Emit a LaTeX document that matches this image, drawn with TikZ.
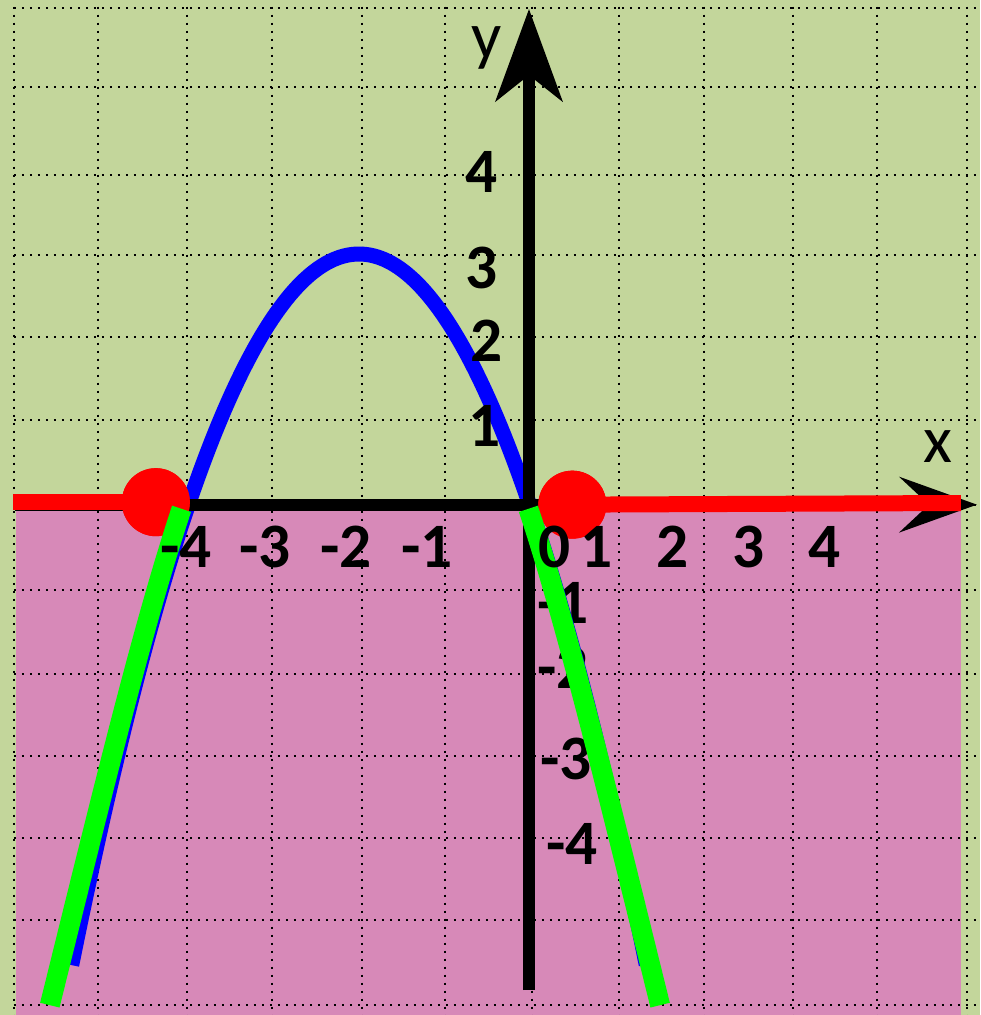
\documentclass[tikz,border=0pt]{standalone}
\usepackage{fontspec}
\setmainfont{Carlito}
\usetikzlibrary{arrows.meta}
\definecolor{bgGreen}{RGB}{195, 214, 155}
\definecolor{bgPink}{RGB}{215, 137, 184}
\definecolor{curveBlue}{RGB}{0, 0, 255}
\definecolor{curveGreen}{RGB}{0, 255, 0}
\definecolor{markRed}{RGB}{255, 0, 0}

\begin{document}
\begin{tikzpicture}[x=0.85cm, y=0.83cm,
    gridline/.style={line width=0.2mm, dash pattern=on 0.2mm off 0.6mm},
    axisline/.style={line width=1.2mm},
    redray/.style={markRed, line width=1.6mm},
    rootdot/.style={circle, fill=markRed, minimum size=6.8mm, inner sep=0pt},
    greenbranch/.style={curveGreen, line width=2.0mm},
    ticklabel/.style={font=\fontsize{18pt}{18pt}\selectfont\bfseries, anchor=base, inner sep=0pt},
    axislabel/.style={font=\fontsize{19pt}{19pt}\selectfont, anchor=base, inner sep=0pt}]
        % background: green above, pink below the x axis
        \useasboundingbox (-6.2235,-6.1687) rectangle (5.3059,6.0602);
        \fill[bgGreen] (-6.2235,-6.1687) rectangle (5.3059,6.0602);
        \fill[bgPink] (-6.03,-0.02) rectangle (5.08,-6.1687);
        % dotted grid
        \foreach \gx in {-6.06,-5.07,-4.02,-3.02,-1.96,-0.99,0.04,1.06,2.06,3.11,4.09,5.15}
          \draw[gridline] (\gx,5.98) -- (\gx,-6.1687);
        \foreach \gy in {5.96,5.01,3.95,2.99,2.0,1.0,-0.02,-1.05,-2.06,-3.05,-4.04,-5.02,-6.05}
          \draw[gridline] (-6.06,\gy) -- (5.3059,\gy);
        % negative y ticks lie under the green branch
        \foreach \t/\px/\py [count=\k] in {-1/0.4/-1.446, -2/0.4/-2.229, -3/0.435/-3.337, -4/0.506/-4.361}
          \node[ticklabel] (nyt\k) at (\px,\py) {\t};
        % parabola
        \draw[curveBlue, line width=1.5mm] plot[domain=-5.38:1.38, samples=80, smooth] (\x, {-0.75*\x*\x-3*\x});
        % axes
        \coordinate (xstart) at (-6.05,-0.02);
        \coordinate (xend) at (5.27,-0.02);
        \coordinate (ystart) at (0,-5.87);
        \coordinate (yend) at (0,5.95);
        \draw[axisline, -{Stealth[length=7.8mm, width=5.6mm, inset=3mm, line width=0pt]}] (xstart) -- (xend);
        \draw[axisline, -{Stealth[length=9.3mm, width=6.8mm, inset=2.7mm, line width=0pt]}] (ystart) -- (yend);
        % red rays with the two roots
        \node[rootdot] (rootL) at (-4.39,0.01) {};
        \node[rootdot] (rootR) at (0.51,-0.02) {};
        \coordinate (redL) at (-6.07,0.01);
        \coordinate (redR) at (5.08,0.0);
        \draw[redray] (redL) -- (rootL.center);
        \draw[redray] (rootR.center) -- (redR);
        \node[rootdot] at (rootL) {};
        \node[rootdot] at (rootR) {};
        % green parts below the axis
        \begin{scope}[xshift=-0.4mm]
          \draw[greenbranch] (-4.04,-0.07) .. controls (-4.48,-1.42) and (-4.95,-3.4) .. (-5.59,-6.05);
          \draw[greenbranch] (0.04,-0.07) .. controls (0.48,-1.42) and (0.95,-3.4) .. (1.59,-6.05);
        \end{scope}
        % tick labels
        \foreach \t/\px [count=\k] in {-4/-4.035, -3/-3.106, -2/-2.153, -1/-1.2, 0/0.306, 1/0.8, 2/1.694, 3/2.588, 4/3.482}
          \node[ticklabel] (xt\k) at (\px,-0.783) {\t};
        \foreach \t/\px/\py [count=\k] in {1/-0.518/0.675, 2/-0.494/1.699, 3/-0.553/2.59, 4/-0.553/3.735}
          \node[ticklabel] (yt\k) at (\px,\py) {\t};
        \node[axislabel] (xlabel) at (4.812,0.482) {x};
        \node[axislabel] (ylabel) at (-0.494,5.35) {y};
\end{tikzpicture}
\end{document}
